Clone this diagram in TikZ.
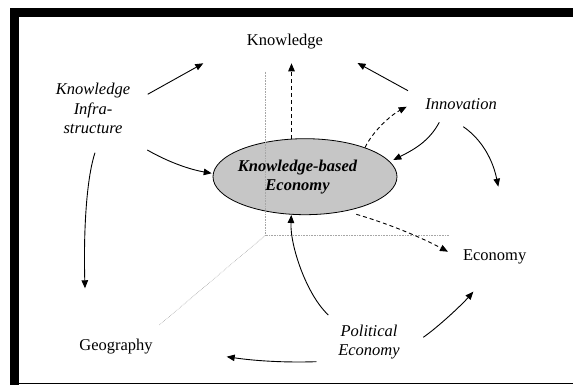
\documentclass[tikz,border=0pt]{standalone}
\usepackage{fontspec}
\setmainfont{Liberation Serif}
\usetikzlibrary{arrows.meta,shapes.geometric}
\begin{document}
\begin{tikzpicture}[x=1pt,y=1pt,
  lbl/.style={font=\fontsize{16.5}{19.5}\selectfont, anchor=base, inner sep=0pt, align=center},
  ilbl/.style={lbl, font=\fontsize{16.5}{19.5}\selectfont\itshape},
  arr/.style={line width=0.9pt, -{Triangle[length=8pt,width=6.5pt]}},
  darr/.style={arr, dash pattern=on 4pt off 3pt},
  axisline/.style={gray!70, line width=0.6pt, densely dotted}]
\useasboundingbox (0,0) rectangle (573,385);
% frame
\fill[black] (10,368) rectangle (573,376.5);
\fill[black] (10,0) rectangle (18.5,376.5);
\draw[line width=1pt] (18,1) -- (573,1);
% central ellipse
\node[ellipse, draw, line width=0.8pt, fill=gray!45, minimum width=184pt, minimum height=76pt, inner sep=0pt] (kbe) at (305,208.3) {};
% axes
\coordinate (o) at (265,149.3);
\coordinate (ay) at (265,313.3);
\coordinate (ax) at (448.7,149.3);
\coordinate (az) at (159.3,60);
\draw[axisline] (ay) -- (o) -- (ax);
\draw[axisline] (o) -- (az);
% labels
\node[lbl, font=\fontsize{16.5}{19}\selectfont\bfseries\itshape] (kbel) at (297.5,194.3) {Knowledge-based\\Economy};
\node[lbl] (know) at (285,339) {Knowledge};
\node[ilbl] (ki) at (93,251) {Knowledge\\Infra-\\structure};
\node[ilbl] (inno) at (461,275) {Innovation};
\node[lbl] (econ) at (494.7,124) {Economy};
\node[lbl] (geo) at (116,34.3) {Geography};
\node[ilbl, font=\fontsize{16.5}{19.3}\selectfont\itshape] (pe) at (369,29) {Political\\Economy};
% connectors
\draw[arr] ([shift={(54.7,39.7)}]ki.base) -- ([shift={(-81.7,-17.3)}]know.base);
\draw[arr] ([shift={(54.3,-16)}]ki.base) .. controls (167.4,223.4) and (188.8,215.7) .. ([shift={(-93.3,3.4)}]kbe.center);
\draw[arr] ([shift={(2,-18.7)}]ki.base) .. controls (86,205) and (83.5,150) .. ([shift={(-31,62.4)}]geo.base);
\draw[darr] ([shift={(-13.5,38)}]kbe.center) -- ([shift={(6.5,-17.3)}]know.base);
\draw[darr] ([shift={(60,29.2)}]kbe.center) .. controls (373,254) and (391,270) .. ([shift={(-54.3,3.3)}]inno.base);
\draw[arr] ([shift={(-53,19.3)}]inno.base) -- ([shift={(72.5,-17)}]know.base);
\draw[arr] ([shift={(-21.7,-12.3)}]inno.base) .. controls (429,243.3) and (412.9,234.9) .. ([shift={(88.3,16.7)}]kbe.center);
\draw[arr] ([shift={(2.3,-16.7)}]inno.base) .. controls (483,244.6) and (493.1,223.8) .. ([shift={(3.6,74.3)}]econ.base);
\draw[darr] ([shift={(51.3,-37.6)}]kbe.center) .. controls (388.1,161.3) and (418.7,148.8) .. ([shift={(-46.7,9.3)}]econ.base);
\draw[arr] ([shift={(-40.7,41)}]pe.base) .. controls (306,91) and (290,140) .. ([shift={(-13.7,-38.3)}]kbe.center);
\draw[arr] ([shift={(54.3,18.7)}]pe.base) .. controls (438.1,58) and (461.4,79.8) .. ([shift={(-21.4,-30.7)}]econ.base);
\draw[arr] ([shift={(-52.7,-5.7)}]pe.base) .. controls (286.4,22.3) and (256.6,23.9) .. ([shift={(110.7,-6)}]geo.base);
\end{tikzpicture}
\end{document}
